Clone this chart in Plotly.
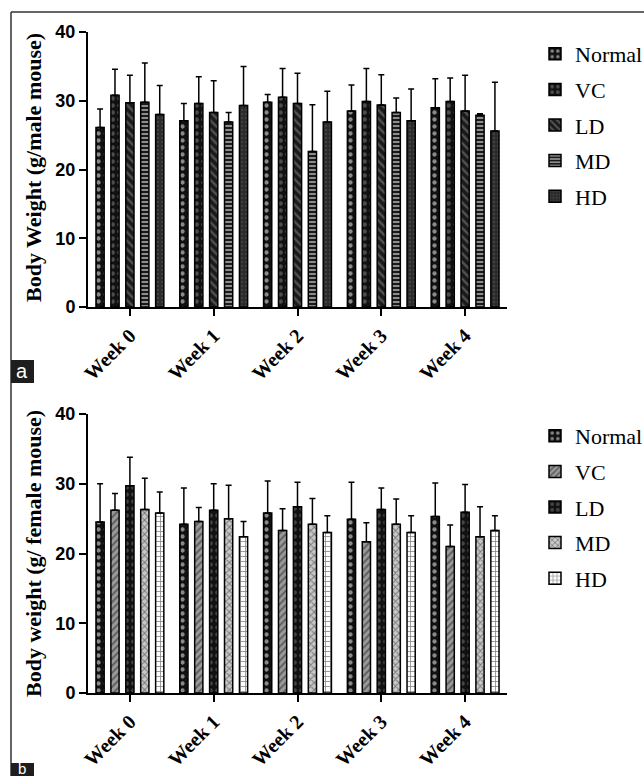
import plotly.graph_objects as go

weeks = ["Week 0", "Week 1", "Week 2", "Week 3", "Week 4"]
groups = ["Normal", "VC", "LD", "MD", "HD"]

# Male mice (panel a): mean and upper error bar (SD)
male_mean = {
    "Normal": [26.1, 27.1, 29.8, 28.5, 29.0],
    "VC":     [30.8, 29.6, 30.5, 29.9, 29.9],
    "LD":     [29.7, 28.3, 29.6, 29.4, 28.5],
    "MD":     [29.8, 26.9, 22.6, 28.3, 27.9],
    "HD":     [28.0, 29.3, 26.9, 27.1, 25.6],
}
male_sd = {
    "Normal": [2.7, 2.5, 1.1, 3.8, 4.2],
    "VC":     [3.8, 3.9, 4.2, 4.8, 3.4],
    "LD":     [4.0, 4.6, 4.4, 4.4, 5.2],
    "MD":     [5.7, 1.4, 6.8, 2.1, 0.2],
    "HD":     [4.2, 5.7, 4.5, 4.6, 7.1],
}

# Female mice (panel b)
female_mean = {
    "Normal": [24.5, 24.2, 25.8, 24.9, 25.3],
    "VC":     [26.2, 24.6, 23.3, 21.7, 21.0],
    "LD":     [29.7, 26.2, 26.7, 26.3, 25.9],
    "MD":     [26.3, 25.0, 24.2, 24.2, 22.4],
    "HD":     [25.8, 22.4, 23.0, 23.0, 23.3],
}
female_sd = {
    "Normal": [5.5, 5.2, 4.6, 5.3, 4.8],
    "VC":     [2.4, 2.0, 3.1, 2.7, 3.1],
    "LD":     [4.1, 3.8, 3.5, 3.1, 4.0],
    "MD":     [4.5, 4.8, 3.7, 3.6, 4.3],
    "HD":     [3.0, 2.2, 2.4, 2.4, 2.1],
}

male_style = {
    "Normal": dict(shape=".", bgcolor="#111111", fgcolor="#ffffff", size=7, solidity=0.3),
    "VC":     dict(shape=".", bgcolor="#111111", fgcolor="#8a8a8a", size=7, solidity=0.35),
    "LD":     dict(shape="\\", bgcolor="#1a1a1a", fgcolor="#8a8a8a", size=6, solidity=0.4),
    "MD":     dict(shape="-", bgcolor="#1a1a1a", fgcolor="#ffffff", size=4, solidity=0.5),
    "HD":     dict(shape=".", bgcolor="#2a2a2a", fgcolor="#555555", size=4, solidity=0.3),
}
female_style = {
    "Normal": dict(shape=".", bgcolor="#111111", fgcolor="#ffffff", size=7, solidity=0.3),
    "VC":     dict(shape="/", bgcolor="#9a9a9a", fgcolor="#222222", size=5, solidity=0.4),
    "LD":     dict(shape=".", bgcolor="#111111", fgcolor="#7a7a7a", size=7, solidity=0.35),
    "MD":     dict(shape="x", bgcolor="#c8c8c8", fgcolor="#222222", size=5, solidity=0.35),
    "HD":     dict(shape="+", bgcolor="#ffffff", fgcolor="#111111", size=5, solidity=0.3),
}

W, H = 644, 776
def px(x):
    return x / W
def py(y):
    return 1 - y / H

fig = go.Figure()

for g in groups:
    fig.add_trace(go.Bar(
        x=weeks, y=male_mean[g], name=g, legend="legend", legendgroup="m" + g,
        xaxis="x", yaxis="y",
        marker=dict(color=male_style[g]["bgcolor"], line=dict(color="black", width=1.5),
                    pattern=male_style[g]),
        error_y=dict(type="data", symmetric=False, array=male_sd[g],
                     arrayminus=[0] * len(weeks), color="black", thickness=1.5, width=3),
    ))
for g in groups:
    fig.add_trace(go.Bar(
        x=weeks, y=female_mean[g], name=g, legend="legend2", legendgroup="f" + g,
        xaxis="x2", yaxis="y2",
        marker=dict(color=female_style[g]["bgcolor"], line=dict(color="black", width=1.5),
                    pattern=female_style[g]),
        error_y=dict(type="data", symmetric=False, array=female_sd[g],
                     arrayminus=[0] * len(weeks), color="black", thickness=1.5, width=3),
    ))

xdom = [px(88), px(507)]
tickfont_y = dict(family="Liberation Sans", size=18, color="black", weight="bold")
tickfont_x = dict(family="Liberation Serif", size=20, color="black", weight="bold")

axis_common = dict(showline=True, linecolor="black", linewidth=2, ticks="outside",
                   tickcolor="black", tickwidth=2, ticklen=7, showgrid=False, zeroline=False,
                   automargin=False)

legend_font = dict(family="Liberation Serif", size=22, color="black")

fig.update_layout(
    width=W, height=H,
    margin=dict(l=0, r=0, t=0, b=0, autoexpand=False),
    paper_bgcolor="white", plot_bgcolor="white",
    barmode="group", bargap=0.11, bargroupgap=0.45,
    xaxis=dict(domain=xdom, anchor="y", range=[-0.5, 4.5], tickangle=-45,
               tickfont=tickfont_x, **axis_common),
    yaxis=dict(domain=[py(307), py(32)], anchor="x", range=[0, 40], tickvals=[0, 10, 20, 30, 40],
               tickfont=tickfont_y, **axis_common),
    xaxis2=dict(domain=xdom, anchor="y2", range=[-0.5, 4.5], tickangle=-45,
                tickfont=tickfont_x, **axis_common),
    yaxis2=dict(domain=[py(693), py(414)], anchor="x2", range=[0, 40], tickvals=[0, 10, 20, 30, 40],
                tickfont=tickfont_y, **axis_common),
    legend=dict(x=px(535), y=py(33), xanchor="left", yanchor="top", font=legend_font,
                tracegroupgap=4, bgcolor="rgba(0,0,0,0)"),
    legend2=dict(x=px(535), y=py(415), xanchor="left", yanchor="top", font=legend_font,
                 tracegroupgap=4, bgcolor="rgba(0,0,0,0)"),
    showlegend=True,
)

title_font = dict(family="Liberation Serif", size=22, color="black", weight="bold")
fig.add_annotation(text="Body Weight (g/male mouse)", textangle=-90, xref="paper", yref="paper",
                   x=px(33), y=py(168), xanchor="center", yanchor="middle",
                   showarrow=False, font=title_font)
fig.add_annotation(text="Body weight (g/ female mouse)", textangle=-90, xref="paper", yref="paper",
                   x=px(33), y=py(554), xanchor="center", yanchor="middle",
                   showarrow=False, font=title_font)

# panel frame lines
fig.add_shape(type="line", xref="paper", yref="paper", x0=px(11), x1=1, y0=py(12), y1=py(12),
              line=dict(color="#333333", width=1.5))
fig.add_shape(type="line", xref="paper", yref="paper", x0=px(11), x1=px(11), y0=py(12), y1=0,
              line=dict(color="#333333", width=1.5))
# panel labels
fig.add_shape(type="rect", xref="paper", yref="paper", x0=px(11), x1=px(34), y0=py(383), y1=py(360),
              fillcolor="#1e1e1e", line=dict(width=0))
fig.add_annotation(text="a", xref="paper", yref="paper", x=px(22.5), y=py(371),
                   xanchor="center", yanchor="middle", showarrow=False,
                   font=dict(family="Liberation Sans", size=20, color="white"))
fig.add_shape(type="rect", xref="paper", yref="paper", x0=px(11), x1=px(34), y0=0, y1=py(763),
              fillcolor="#1e1e1e", line=dict(width=0))
fig.add_annotation(text="b", xref="paper", yref="paper", x=px(22.5), y=py(768),
                   xanchor="center", yanchor="middle", showarrow=False,
                   font=dict(family="Liberation Sans", size=15, color="white"))

fig.write_html("out.html", config={"displayModeBar": False},
               post_script="document.body.style.margin='0';")
